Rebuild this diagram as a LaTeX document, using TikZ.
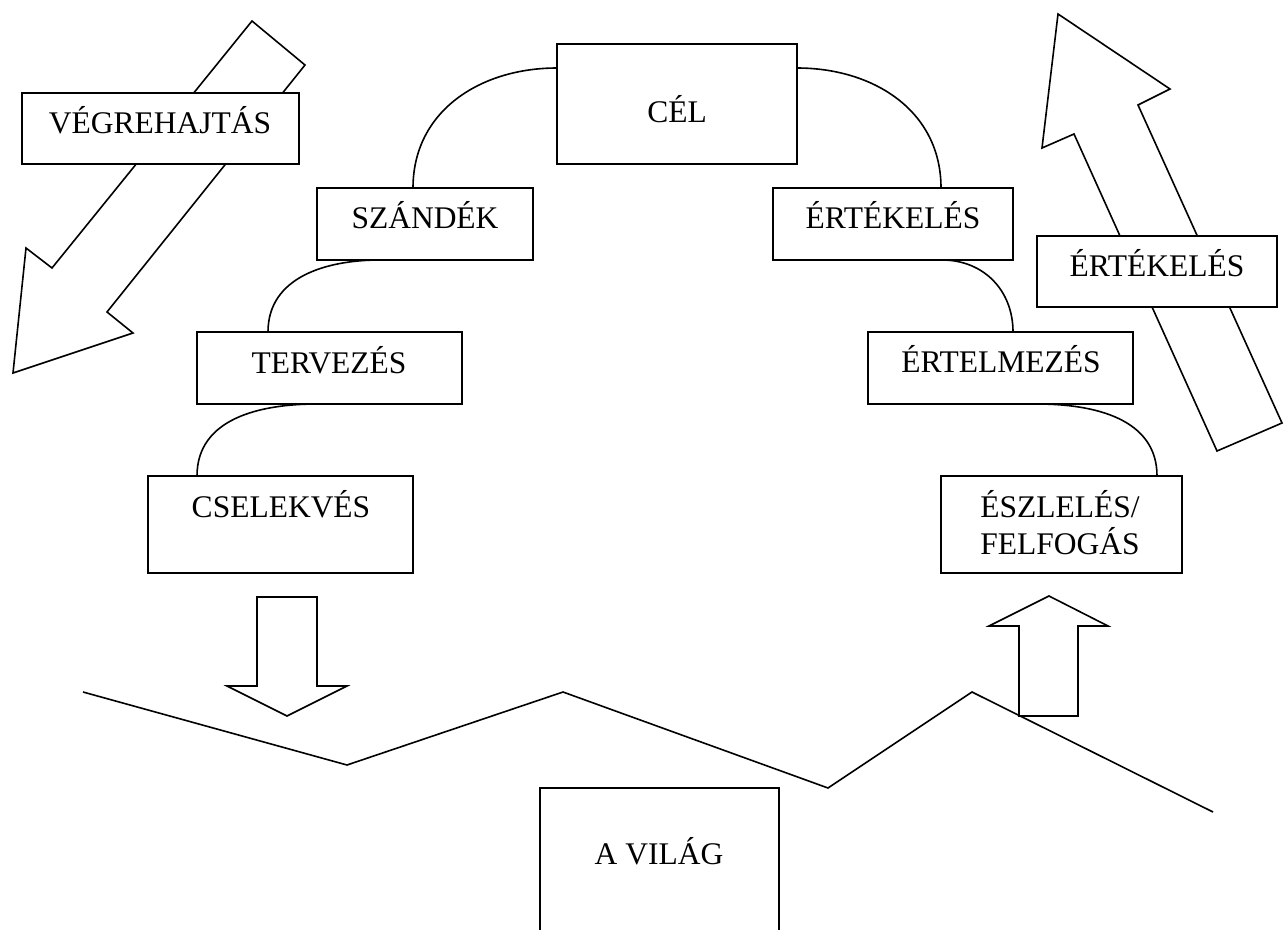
\documentclass[tikz,border=0pt]{standalone}
\usepackage{fontspec}
\setmainfont{Liberation Serif}
\begin{document}
\begin{tikzpicture}[x=1pt,y=-1pt,
  line width=1.6pt, line join=miter,
  box/.style={draw, rectangle, inner sep=0pt, outer sep=0pt, fill=white},
  lbl/.style={font=\fontsize{31.5}{37}\selectfont, inner sep=0pt, anchor=base},
  link/.style={draw},
  blockarrow/.style={draw, fill=white}]
\clip (0,0) rectangle (1287,929);

% the world's surface
\draw (83,692) -- (347,765) -- (563,692) -- (828,788) -- (972,692) -- (1213,812);

% block arrows
\draw[blockarrow] (252,21) -- (305,65) -- (107,312) -- (133,333) -- (13,373)
  -- (26,248) -- (52,268) -- cycle;
\draw[blockarrow] (1058,14) -- (1170,89) -- (1138,105) -- (1282,423) -- (1217,451)
  -- (1074,134) -- (1042,148) -- cycle;
\draw[blockarrow] (257,597) -- (317,597) -- (317,686) -- (347,686) -- (287,716)
  -- (227,686) -- (257,686) -- cycle;
\draw[blockarrow] (1049,596) -- (1108,626) -- (1078,626) -- (1078,716) -- (1019,716)
  -- (1019,626) -- (989,626) -- cycle;

% boxes
\node[box, minimum width=240pt, minimum height=120pt] (cel)        at (677,104)    {};
\node[box, minimum width=216pt, minimum height=72pt]  (szandek)    at (425,224)    {};
\node[box, minimum width=240pt, minimum height=72pt]  (ertekeles)  at (893,224)    {};
\node[box, minimum width=265pt, minimum height=72pt]  (tervezes)   at (329.5,368)  {};
\node[box, minimum width=265pt, minimum height=72pt]  (ertelmezes) at (1000.5,368) {};
\node[box, minimum width=265pt, minimum height=97pt]  (cselekves)  at (280.5,524.5){};
\node[box, minimum width=241pt, minimum height=97pt]  (eszleles)   at (1061.5,524.5){};
\node[box, minimum width=277pt, minimum height=71pt]  (vegre)      at (160.5,128.5){};
\node[box, minimum width=240pt, minimum height=71pt]  (ertekeles2) at (1157,271.5) {};
\node[box, minimum width=239pt, minimum height=240pt, anchor=north] (vilag) at (659.5,788) {};

% labels
\node[lbl] (tcel)        at (677,122)  {CÉL};
\node[lbl] (tszandek)    at (425,228)  {SZÁNDÉK};
\node[lbl] (tertekeles)  at (893,228)  {ÉRTÉKELÉS};
\node[lbl] (ttervezes)   at (329,373)  {TERVEZÉS};
\node[lbl] (tertelmezes) at (1001,372) {ÉRTELMEZÉS};
\node[lbl] (tcselekves)  at (281,517)  {CSELEKVÉS};
\node[lbl, align=center] (teszleles) at (1060,554) {ÉSZLELÉS/\\FELFOGÁS};
\node[lbl] (tvegre)      at (160,133)  {VÉGREHAJTÁS};
\node[lbl] (tertekeles2) at (1157,276) {ÉRTÉKELÉS};
\node[lbl] (tvilag)      at (659,864)  {A VILÁG};

% cycle connectors
\draw[link] ([yshift=-24pt]cel.north west) to[out=180,in=90,looseness=1.05] ([xshift=96pt]szandek.north west);
\draw[link] ([yshift=-24pt]cel.north east) to[out=0,in=90,looseness=1.05] ([xshift=168pt]ertekeles.north west);
\draw[link] ([xshift=63pt]szandek.south west) to[out=180,in=90,looseness=1.05] ([xshift=71pt]tervezes.north west);
\draw[link] ([xshift=120pt]tervezes.south west) to[out=180,in=90,looseness=1.05] ([xshift=49pt]cselekves.north west);
\draw[link] ([xshift=169pt]ertekeles.south west) to[out=0,in=90,looseness=1.05] ([xshift=145pt]ertelmezes.north west);
\draw[link] ([xshift=169pt]ertelmezes.south west) to[out=0,in=90,looseness=1.05] ([xshift=216pt]eszleles.north west);
\end{tikzpicture}
\end{document}
